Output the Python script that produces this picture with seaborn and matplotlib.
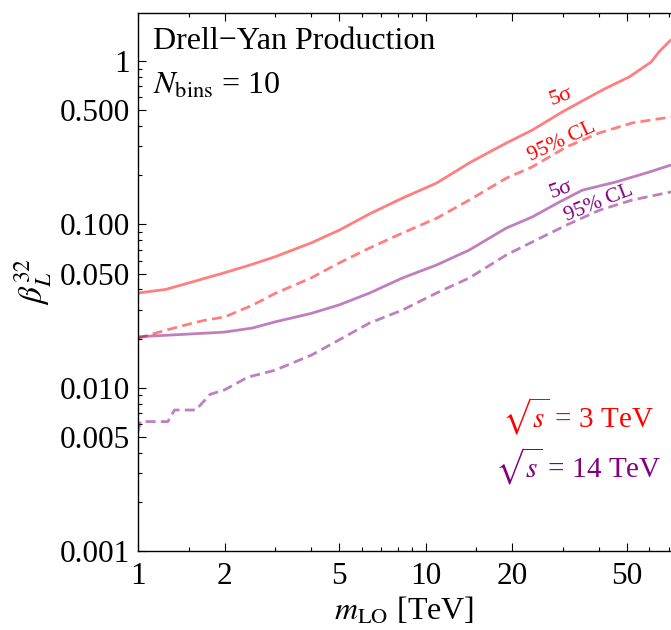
import numpy as np
import pandas as pd
import matplotlib
matplotlib.use("Agg")
import matplotlib.pyplot as plt
import seaborn as sns
from matplotlib.ticker import FixedLocator, FixedFormatter, NullFormatter

# ---- data ----
m_red_5s = [1, 1.25, 1.5, 2, 2.5, 3, 4, 5, 6.39, 8.32, 10.92, 14.2, 19.1, 23.5, 30,
            35.6, 41.2, 51.1, 60.9, 64.9, 71.4]
b_red_5s = [0.038, 0.040, 0.0438, 0.0506, 0.057, 0.0634, 0.077, 0.092, 0.116, 0.145,
            0.179, 0.238, 0.315, 0.378, 0.49, 0.578, 0.665, 0.80, 0.987, 1.14, 1.35]

m_red_cl = [1, 1.25, 1.5, 1.71, 2, 2.5, 3, 4, 5, 6.39, 8.32, 10.92, 14.2, 19.1, 23.5,
            30.9, 40.2, 52.3, 71.4]
b_red_cl = [0.0201, 0.0225, 0.0245, 0.0259, 0.0271, 0.032, 0.0378, 0.047, 0.058,
            0.0717, 0.0886, 0.109, 0.141, 0.192, 0.225, 0.298, 0.363, 0.418, 0.455]

m_pur_5s = [1, 1.5, 2, 2.5, 3, 4, 5, 6.39, 8.32, 10.92, 14.2, 19.1, 23.5, 29.2, 35.1,
            46, 59.9, 71.4]
b_pur_5s = [0.0205, 0.0213, 0.0219, 0.0232, 0.0253, 0.0285, 0.0321, 0.038, 0.047,
            0.0564, 0.0697, 0.095, 0.111, 0.137, 0.162, 0.182, 0.209, 0.231]

m_pur_cl = [1, 1.02, 1.27, 1.34, 1.59, 1.78, 2.0, 2.41, 3.0, 4, 5, 6.39, 8.32, 10.92,
            14.2, 19.1, 23.5, 30.9, 40.2, 52.3, 71.4]
b_pur_cl = [0.0054, 0.0062, 0.0062, 0.0073, 0.0073, 0.0091, 0.0097, 0.0116, 0.0128,
            0.0158, 0.0196, 0.0249, 0.0299, 0.038, 0.047, 0.065, 0.078, 0.099, 0.122,
            0.141, 0.158]

x_major = [1, 2, 5, 10, 20, 50]
x_major_labels = ["1", "2", "5", "10", "20", "50"]
x_minor = [1.5, 3, 4, 6, 7, 8, 9, 15, 30, 40, 60, 70]
y_major = [0.001, 0.005, 0.01, 0.05, 0.1, 0.5, 1]
y_major_labels = ["0.001", "0.005", "0.010", "0.050", "0.100", "0.500", "1"]
y_minor = [k * 10.0 ** d for d in range(-3, 1) for k in (2, 3, 4, 6, 7, 8, 9)]

RED = "#FF0000"
PURPLE = "#800080"

sns.set_style("ticks")
plt.rcParams["font.family"] = ["Liberation Serif", "DejaVu Serif"]
plt.rcParams["mathtext.fontset"] = "stix"
plt.rcParams["text.color"] = "black"
plt.rcParams["axes.labelcolor"] = "black"

fig = plt.figure(figsize=(6.71, 6.30), dpi=100)
ax = fig.add_axes([138 / 671, 1 - 551 / 630, 1 - 138 / 671, (551 - 13) / 630])
ax.set_xscale("log")
ax.set_yscale("log")

dash = (0, (3.6, 1.9))
series = [
    (m_red_5s, b_red_5s, RED, "-"),
    (m_red_cl, b_red_cl, RED, dash),
    (m_pur_5s, b_pur_5s, PURPLE, "-"),
    (m_pur_cl, b_pur_cl, PURPLE, dash),
]
for xs, ys, col, ls in series:
    df = pd.DataFrame({"m": xs, "beta": ys})
    sns.lineplot(data=df, x="m", y="beta", ax=ax, color=col, alpha=0.5,
                 linewidth=2.0, linestyle=ls, estimator=None, sort=False)

ax.set_xlim(1, 71.4)
ax.set_ylim(0.001, 1.97)

ax.xaxis.set_major_locator(FixedLocator(x_major))
ax.xaxis.set_major_formatter(FixedFormatter(x_major_labels))
ax.xaxis.set_minor_locator(FixedLocator(x_minor))
ax.xaxis.set_minor_formatter(NullFormatter())
ax.yaxis.set_major_locator(FixedLocator(y_major))
ax.yaxis.set_major_formatter(FixedFormatter(y_major_labels))
ax.yaxis.set_minor_locator(FixedLocator(y_minor))
ax.yaxis.set_minor_formatter(NullFormatter())

ax.tick_params(which="both", direction="in", top=True, right=False,
               labelsize=22.5, colors="black")
ax.tick_params(which="major", length=6, width=0.8)
ax.tick_params(which="minor", length=3.2, width=0.8)
ax.tick_params(axis="y", which="major", pad=6)
ax.tick_params(axis="x", which="major", pad=8)

for s in ["left", "bottom", "top"]:
    ax.spines[s].set_linewidth(1.0)
    ax.spines[s].set_color("black")
ax.spines["right"].set_visible(False)

ax.set_xlabel(r"$m_{\rm LO}$ [TeV]", fontsize=23, labelpad=3)
ax.set_ylabel(r"$\beta_L^{32}$", fontsize=24, labelpad=4)

ax.text(0.028, 0.933, "Drell\u2212Yan Production", transform=ax.transAxes,
        fontsize=23, ha="left", va="baseline")
ax.text(0.028, 0.849, r"$N_{\rm bins}$ = 10", transform=ax.transAxes,
        fontsize=23, ha="left", va="baseline")

ax.text(0.8255, 0.251, r"$\sqrt{s}$ = 3 TeV", transform=ax.transAxes,
        fontsize=21, color=RED, ha="center", va="center")
ax.text(0.8255, 0.158, r"$\sqrt{s}$ = 14 TeV", transform=ax.transAxes,
        fontsize=21, color=PURPLE, ha="center", va="center")

ax.text(29.7, 0.60, "5\u03c3", fontsize=16, color=RED, rotation=20,
        ha="center", va="center")
ax.text(29.7, 0.32, "95% CL", fontsize=15.5, color=RED, rotation=25,
        ha="center", va="center")
ax.text(29.7, 0.163, "5\u03c3", fontsize=16, color=PURPLE, rotation=20,
        ha="center", va="center")
ax.text(40.2, 0.135, "95% CL", fontsize=15.5, color=PURPLE, rotation=22,
        ha="center", va="center")

fig.savefig("out.png", dpi=100)
